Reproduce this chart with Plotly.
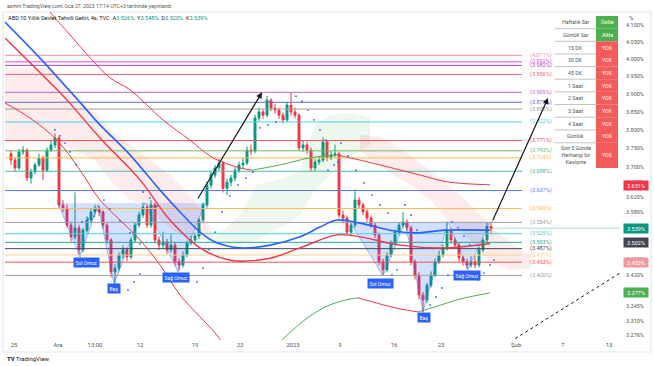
import math
import plotly.graph_objects as go

# ---------------- data ----------------
first_open = 3.735
closes = [3.718,3.697,3.740,3.745,3.670,3.686,3.705,3.724,3.691,3.745,
          3.759,3.778,3.599,3.591,3.547,3.517,3.540,3.484,3.534,3.560,
          3.581,3.591,3.581,3.547,3.509,3.429,3.438,3.471,3.484,3.466,
          3.509,3.547,3.573,3.594,3.547,3.599,3.509,3.496,3.504,3.484,
          3.496,3.454,3.446,3.471,3.501,3.509,3.519,3.560,3.599,3.651,
          3.678,3.697,3.710,3.643,3.659,3.670,3.691,3.705,3.710,3.745,
          3.742,3.833,3.850,3.841,3.883,3.861,3.855,3.841,3.828,3.869,
          3.850,3.841,3.751,3.759,3.745,3.697,3.713,3.718,3.767,3.724,
          3.732,3.735,3.573,3.565,3.529,3.547,3.612,3.599,3.581,3.565,
          3.547,3.522,3.454,3.434,3.471,3.501,3.529,3.547,3.555,3.540,
          3.454,3.421,3.372,3.360,3.396,3.421,3.454,3.471,3.489,3.534,
          3.509,3.496,3.464,3.454,3.446,3.454,3.446,3.484,3.509,3.544,
          3.539]
highs = [3.745,3.725,3.748,3.756,3.750,3.695,3.712,3.735,3.730,3.752,
         3.770,3.790,3.785,3.612,3.600,3.556,3.632,3.548,3.540,3.570,
         3.590,3.600,3.598,3.586,3.552,3.514,3.448,3.478,3.495,3.490,
         3.515,3.553,3.582,3.605,3.600,3.612,3.605,3.518,3.530,3.512,
         3.525,3.502,3.462,3.480,3.508,3.520,3.528,3.566,3.606,3.660,
         3.688,3.705,3.722,3.715,3.668,3.678,3.700,3.714,3.724,3.755,
         3.760,3.842,3.862,3.858,3.895,3.888,3.872,3.862,3.848,3.878,
         3.905,3.862,3.846,3.770,3.768,3.752,3.722,3.728,3.780,3.772,
         3.742,3.760,3.740,3.585,3.572,3.556,3.640,3.620,3.605,3.588,
         3.572,3.552,3.528,3.462,3.478,3.508,3.536,3.555,3.580,3.562,
         3.546,3.460,3.428,3.380,3.402,3.430,3.462,3.480,3.498,3.556,
         3.540,3.515,3.502,3.470,3.462,3.468,3.470,3.492,3.515,3.555,
         3.556]
lows = [3.705,3.688,3.692,3.732,3.662,3.655,3.680,3.700,3.664,3.686,
        3.740,3.750,3.590,3.580,3.540,3.505,3.510,3.470,3.478,3.528,
        3.552,3.572,3.570,3.538,3.500,3.415,3.400,3.430,3.462,3.455,
        3.460,3.502,3.540,3.566,3.540,3.540,3.500,3.484,3.488,3.474,
        3.478,3.445,3.432,3.440,3.465,3.495,3.500,3.512,3.552,3.592,
        3.642,3.670,3.690,3.632,3.625,3.648,3.662,3.684,3.696,3.704,
        3.732,3.736,3.825,3.830,3.835,3.852,3.845,3.830,3.818,3.822,
        3.840,3.832,3.742,3.740,3.735,3.688,3.690,3.705,3.712,3.715,
        3.718,3.726,3.565,3.552,3.520,3.518,3.540,3.590,3.572,3.556,
        3.540,3.514,3.445,3.420,3.428,3.465,3.495,3.522,3.540,3.532,
        3.445,3.410,3.362,3.330,3.352,3.390,3.415,3.448,3.465,3.482,
        3.500,3.488,3.455,3.444,3.436,3.440,3.438,3.440,3.478,3.502,
        3.526]
opens = [first_open] + closes[:-1]
bars = list(range(len(closes)))

# moving averages / bands (bar index, price)
blue_ma_x = [-1.5, 7.25, 16.75, 22.25, 29.75, 37.25, 42.25, 47.25, 51, 57.25, 64.75, 72.25, 77.25, 81.5, 87.25, 94.75, 101, 108.5, 119.75]
blue_ma_y = [4.109, 4.003, 3.883, 3.814, 3.732, 3.638, 3.581, 3.529, 3.504, 3.489, 3.496, 3.517, 3.542, 3.560, 3.552, 3.534, 3.527, 3.534, 3.534]

red_ma_x = [-1.5, 4, 14, 22.25, 32.25, 39.75, 47.25, 54.75, 64.75, 72.25, 81.5, 87.25, 97.25, 109, 119.75]
red_ma_y = [4.062, 3.998, 3.883, 3.778, 3.665, 3.560, 3.489, 3.458, 3.463, 3.489, 3.522, 3.517, 3.496, 3.489, 3.500]

upper_segments = [
    ("#f23645", [8.5, 9.75, 14.75, 20.25, 24.75, 29.75, 38, 44.75, 50.5, 57.25, 60.25],
                [4.160, 4.139, 4.071, 3.998, 3.946, 3.912, 3.828, 3.772, 3.724, 3.697, 3.691]),
    ("#4caf50", [60.25, 67.25, 74.75, 81.5], [3.691, 3.705, 3.724, 3.732]),
    ("#f23645", [81.5, 87.25, 92.25, 102.25, 109, 119.75], [3.732, 3.718, 3.705, 3.678, 3.660, 3.652]),
]
lower_segments = [
    ("#f23645", [-1.5, 4.75, 11.5, 17.25, 22.25, 27.25, 32.25, 37.25, 42.25, 47.25, 51, 54.25],
                [3.875, 3.833, 3.772, 3.691, 3.612, 3.560, 3.509, 3.446, 3.372, 3.319, 3.281, 3.238]),
    ("#4caf50", [63.5, 67.25, 71, 74.75, 79.75, 84.75, 86.75], [3.217, 3.259, 3.292, 3.321, 3.348, 3.362, 3.365]),
    ("#f23645", [86.75, 92.25, 97.25, 101.75], [3.365, 3.350, 3.338, 3.331]),
    ("#4caf50", [101.75, 106, 112.25, 119.75], [3.331, 3.343, 3.362, 3.377]),
]

# cloud polygons (outline points)
clouds = [
    ("rgba(242,54,69,0.10)",
     [-1.5, 9.75, 12.25, 16, 21, 24.75, 29.75, 34.75, 39.75, 44.75, 48.5, 50.25,
      50.25, 47.25, 42.25, 37.25, 34.75, 29.75, 24.75, 21, 16, 12.25, 9.75, -1.5],
     [3.974, 3.974, 3.940, 3.883, 3.850, 3.800, 3.759, 3.718, 3.678, 3.625, 3.573, 3.522,
      3.509, 3.509, 3.522, 3.560, 3.599, 3.612, 3.665, 3.718, 3.745, 3.764, 3.772, 3.772]),
    ("rgba(76,175,80,0.10)",
     [50.25, 57.25, 61.5, 68.5, 72.25, 76, 79.75, 84.75, 89.75,
      89.75, 84.75, 79.75, 76, 72.25, 68.5, 61.5, 57.25, 50.25],
     [3.509, 3.573, 3.652, 3.670, 3.691, 3.814, 3.841, 3.847, 3.833,
      3.759, 3.726, 3.678, 3.638, 3.573, 3.547, 3.509, 3.496, 3.496]),
    ("rgba(242,54,69,0.10)",
     [87.25, 92.25, 97.25, 102.25, 107.25, 112.25, 117.25, 122.25, 127.25, 129.75,
      129.75, 124.75, 119.75, 114.75, 109.75, 104.75, 99.75, 94.75, 89.75, 87.25],
     [3.786, 3.781, 3.751, 3.710, 3.670, 3.625, 3.573, 3.522, 3.484, 3.471,
      3.438, 3.434, 3.453, 3.509, 3.555, 3.612, 3.652, 3.686, 3.718, 3.745]),
]

# parabolic SAR dots
sar_x = [11, 12.25, 13.5, 14.75, 16.25, 17.75, 19.25, 20.75, 22.25,
         23.25, 24.75, 27.25, 29.75, 32.25, 29.25, 30.75, 32.25, 33, 34.75, 36.5,
         46.5, 48, 49.5, 51, 52.75, 54.75, 56.75, 58.75, 60.5,
         62.25, 64.25, 66.25, 68.25, 71.25, 72.75, 74.25, 75.75, 77.25, 78.75,
         79.25, 80.75, 81.75, 82.5, 84.25, 86.25, 88.25, 90.25, 92.25, 94.25,
         95.25, 96.5, 98.5, 100, 101.5, 103, 104.75, 106.25, 107.75, 109.25,
         110.25, 111.75, 113.25, 114.75, 116.75, 118.25, 119.75, 120.75]
sar_y = [3.800, 3.784, 3.764, 3.740, 3.705, 3.555, 3.563, 3.570, 3.581,
         3.612, 3.589, 3.558, 3.527, 3.499, 3.384, 3.404, 3.424, 3.633, 3.617, 3.596,
         3.404, 3.438, 3.484, 3.529, 3.581, 3.623, 3.652, 3.670, 3.686,
         3.806, 3.814, 3.822, 3.830, 3.894, 3.880, 3.855, 3.828, 3.800, 3.772,
         3.691, 3.705, 3.713, 3.764, 3.729, 3.691, 3.657, 3.625, 3.599, 3.578,
         3.421, 3.434, 3.599, 3.573, 3.534, 3.489, 3.348, 3.367, 3.389, 3.421,
         3.555, 3.540, 3.519, 3.496, 3.409, 3.426, 3.446, 3.458]

# head & shoulders patterns
hs_patterns = [
    ([11.75, 17.25, 21.75, 25.75, 33.5, 41.75, 48.5],
     [3.604, 3.466, 3.599, 3.399, 3.604, 3.429, 3.604]),
    ([84.75, 93, 98.5, 103, 109.25, 114.25, 119.75],
     [3.555, 3.419, 3.555, 3.331, 3.555, 3.434, 3.555]),
]
hs_labels = ["Sol Omuz", "Baş", "Sağ Omuz", "Sol Omuz", "Baş", "Sağ Omuz"]
hs_label_x = [18.75, 25.75, 41.25, 92.25, 103.25, 114]
hs_label_y = [3.451, 3.387, 3.416, 3.401, 3.318, 3.419]

# horizontal levels
level_values = [4.011, 3.992, 3.982, 3.956, 3.905, 3.877, 3.858, 3.822, 3.771, 3.743, 3.724,
                3.688, 3.637, 3.590, 3.554, 3.525, 3.503, 3.487, 3.471, 3.453, 3.420]
level_colors = ["#f48fb1", "#e040fb", "#ab47bc", "#f06277", "#ba68c8", "#5c6bc0", "#a0a0a0",
                "#4dd0e1", "#ef5350", "#66bb6a", "#ffb74d", "#4db6ac", "#5b7cfa", "#ffb74d",
                "#a0a0a0", "#4dd0e1", "#26a69a", "#434651", "#ffcc80", "#ef5350", "#a0a0a0"]

# arrows (tail -> head) and projected dotted line
arrow_tail_x = [46.5, 120.25]
arrow_tail_y = [3.612, 3.555]
arrow_head_x = [62.75, 134.25]
arrow_head_y = [3.905, 3.889]
proj_x = [123.5, 152.25]
proj_y = [3.252, 3.426]

# axis ticks
x_tickvals = [0.75, 11.75, 21, 32.25, 46, 57.25, 70.5, 82.25, 95.75, 107.5, 126.25, 138, 149.5]
x_ticktext = ["25", "Ara", "13:00", "12", "19", "23", "2023", "9", "16", "23", "Şub", "7", "13"]
y_tickvals = [4.100, 4.050, 4.000, 3.950, 3.900, 3.850, 3.800, 3.750, 3.700, 3.660, 3.620,
              3.580, 3.460, 3.420, 3.345, 3.310, 3.276]

# price boxes on the scale
box_values = [3.651, 3.539, 3.502, 3.453, 3.377]
box_colors = ["#f23645", "#089981", "#434651", "#f09aa0", "#4caf50"]

# table
table_labels = ["Haftalık Sar", "Günlük Sar", "15 DK", "30 DK", "45 DK", "1 Saat", "2 Saat",
                "3 Saat", "4 Saat", "Günlük", "Son 5 Günde<br>Herhangi bir<br>Kesişme"]
table_values = ["Üstte", "Altta", "YOK", "YOK", "YOK", "YOK", "YOK", "YOK", "YOK", "YOK", "YOK"]
table_colors = ["#4caf50", "#4caf50", "#f45b5b", "#f45b5b", "#f45b5b", "#f45b5b", "#f45b5b",
                "#f45b5b", "#f45b5b", "#f45b5b", "#f45b5b"]

# ---------------- layout helpers ----------------
W, H = 654, 366
PL, PR, PT, PB = 5, 620, 12, 340
X_MIN, X_MAX = -1.5, 152.25
Y_TOP, Y_BOT = 4.1389, 3.2638


def paper_x(px):
    return (px - PL) / (PR - PL)


def paper_y(py):
    return (PB - py) / (PB - PT)


FONT = "Roboto, Liberation Sans, DejaVu Sans, sans-serif"
fig = go.Figure()

for fillc, xs, ys in clouds:
    fig.add_trace(go.Scatter(x=xs, y=ys, mode="lines", fill="toself", fillcolor=fillc,
                             line=dict(width=0), hoverinfo="skip", showlegend=False))

for xs, ys in hs_patterns:
    fig.add_trace(go.Scatter(x=xs, y=ys, mode="lines", fill="toself",
                             fillcolor="rgba(41,98,255,0.2)",
                             line=dict(color="rgba(41,98,255,0.55)", width=0.8),
                             hoverinfo="skip", showlegend=False))

for v, c in zip(level_values, level_colors):
    fig.add_trace(go.Scatter(x=[X_MIN, 127.75], y=[v, v], mode="lines",
                             line=dict(color=c, width=1), hoverinfo="skip", showlegend=False))

for c, xs, ys in upper_segments + lower_segments:
    fig.add_trace(go.Scatter(x=xs, y=ys, mode="lines", line=dict(color=c, width=1, shape="spline"),
                             hoverinfo="skip", showlegend=False))

fig.add_trace(go.Scatter(x=red_ma_x, y=red_ma_y, mode="lines",
                         line=dict(color="#f23645", width=1.4, shape="spline"),
                         hoverinfo="skip", showlegend=False))
fig.add_trace(go.Scatter(x=blue_ma_x, y=blue_ma_y, mode="lines",
                         line=dict(color="#2962ff", width=1.6, shape="spline"),
                         hoverinfo="skip", showlegend=False))

fig.add_trace(go.Candlestick(x=bars, open=opens, high=highs, low=lows, close=closes,
                             increasing=dict(line=dict(color="#089981", width=1), fillcolor="#089981"),
                             decreasing=dict(line=dict(color="#f23645", width=1), fillcolor="#f23645"),
                             whiskerwidth=0, showlegend=False, hoverinfo="skip"))

fig.add_trace(go.Scatter(x=sar_x, y=sar_y, mode="markers",
                         marker=dict(color="#2962ff", size=1.8), hoverinfo="skip", showlegend=False))

fig.add_trace(go.Scatter(x=proj_x, y=proj_y, mode="lines",
                         line=dict(color="#131722", width=1, dash="dot"),
                         hoverinfo="skip", showlegend=False))

# last price line
fig.add_trace(go.Scatter(x=[bars[-1], X_MAX], y=[closes[-1], closes[-1]], mode="lines",
                         line=dict(color="rgba(8,153,129,0.5)", width=0.7),
                         hoverinfo="skip", showlegend=False))

annotations = []
shapes = []

# level labels
for v, c in zip(level_values, level_colors):
    annotations.append(dict(x=129.25, y=math.log10(v), xref="x", yref="y", xanchor="left",
                            yanchor="middle", text=f"({v:.3f}%)", showarrow=False,
                            font=dict(size=5.5, color=c, family=FONT)))

# H&S labels
for t, lx, ly in zip(hs_labels, hs_label_x, hs_label_y):
    annotations.append(dict(x=lx, y=math.log10(ly), xref="x", yref="y", text=t, showarrow=False,
                            xanchor="center", yanchor="middle",
                            bgcolor="#2962ff", font=dict(size=5, color="white", family=FONT),
                            borderpad=1.5))

# arrows
for tx, ty, hx, hy in zip(arrow_tail_x, arrow_tail_y, arrow_head_x, arrow_head_y):
    annotations.append(dict(x=hx, y=math.log10(hy), ax=tx, ay=math.log10(ty), xref="x", yref="y",
                            axref="x", ayref="y", text="", showarrow=True, arrowhead=2,
                            arrowsize=1, arrowwidth=1.2, arrowcolor="#131722"))

# price boxes
for v, c in zip(box_values, box_colors):
    annotations.append(dict(x=paper_x(623), y=math.log10(v), xref="paper", yref="y",
                            xanchor="left", yanchor="middle", text=f"{v:.3f}%", showarrow=False,
                            bgcolor=c, width=23, height=8, borderpad=0.5,
                            font=dict(size=5.5, color="white", family=FONT)))

annotations.append(dict(x=paper_x(627), y=paper_y(17), xref="paper", yref="paper", text="%",
                        showarrow=False, xanchor="left", yanchor="middle",
                        font=dict(size=6, color="#555", family=FONT)))

# header texts
annotations.append(dict(x=paper_x(5), y=paper_y(6), xref="paper", yref="paper", xanchor="left",
                        yanchor="middle", showarrow=False,
                        text="asmin TradingView.com, Oca 27, 2023 17:14 UTC+3 tarihinde yayınlandı",
                        font=dict(size=5.2, color="#555", family=FONT)))
teal = "#089981"
title_txt = ("ABD 10 Yıllık Devlet Tahvili Getiri, 4s, TVC  "
             f"A<span style='color:{teal}'>3.526%</span>  Y<span style='color:{teal}'>3.548%</span>  "
             f"D<span style='color:{teal}'>3.520%</span>  K<span style='color:{teal}'>3.539%</span>")
annotations.append(dict(x=paper_x(6), y=paper_y(18), xref="paper", yref="paper", xanchor="left",
                        yanchor="middle", showarrow=False, text=title_txt,
                        font=dict(size=5.6, color="#131722", family=FONT)))
annotations.append(dict(x=paper_x(5), y=paper_y(358), xref="paper", yref="paper", xanchor="left",
                        yanchor="middle", showarrow=False, text="<b>TV</b> TradingView",
                        font=dict(size=6, color="#131722", family=FONT)))

# table
row_edges = [16, 28.7, 41.3, 54, 66.6, 79.2, 91.8, 104.5, 117.2, 130, 142.8, 168]
TL, TM, TR = 555, 596, 618
for i, (lab, val, col) in enumerate(zip(table_labels, table_values, table_colors)):
    y0, y1 = row_edges[i], row_edges[i + 1]
    shapes.append(dict(type="rect", xref="paper", yref="paper", x0=paper_x(TL), x1=paper_x(TM),
                       y0=paper_y(y1), y1=paper_y(y0), fillcolor="white", line=dict(width=0)))
    shapes.append(dict(type="rect", xref="paper", yref="paper", x0=paper_x(TM), x1=paper_x(TR),
                       y0=paper_y(y1), y1=paper_y(y0), fillcolor=col, line=dict(width=0)))
    if i > 0:
        shapes.append(dict(type="line", xref="paper", yref="paper", x0=paper_x(TL), x1=paper_x(TM),
                           y0=paper_y(y0), y1=paper_y(y0), line=dict(color="#9a9a9a", width=0.6)))
    ym = paper_y((y0 + y1) / 2)
    annotations.append(dict(x=paper_x((TL + TM) / 2), y=ym, xref="paper", yref="paper", text=lab,
                            xanchor="center", yanchor="middle", showarrow=False,
                            font=dict(size=5.3, color="#555", family=FONT)))
    annotations.append(dict(x=paper_x((TM + TR) / 2), y=ym, xref="paper", yref="paper", text=val,
                            xanchor="center", yanchor="middle", showarrow=False,
                            font=dict(size=5.3, color="white", family=FONT)))

# outer frame
shapes.append(dict(type="rect", xref="paper", yref="paper", x0=paper_x(3), x1=paper_x(651),
                   y0=paper_y(352), y1=paper_y(12), line=dict(color="#e0e3eb", width=1),
                   fillcolor="rgba(0,0,0,0)", layer="below"))

fig.update_layout(
    width=W, height=H,
    margin=dict(l=PL, r=W - PR, t=PT, b=H - PB),
    paper_bgcolor="white", plot_bgcolor="white",
    showlegend=False,
    annotations=annotations, shapes=shapes,
    font=dict(family=FONT),
    xaxis=dict(range=[X_MIN, X_MAX], showgrid=False, zeroline=False, showline=False,
               tickvals=x_tickvals, ticktext=x_ticktext, ticks="",
               tickfont=dict(size=6, color="#555"), rangeslider=dict(visible=False)),
    yaxis=dict(type="log", range=[math.log10(Y_BOT), math.log10(Y_TOP)], side="right",
               showgrid=False, zeroline=False, showline=False,
               tickvals=y_tickvals, ticktext=[f"{v:.3f}%" for v in y_tickvals], ticks="",
               ticklabelstandoff=5, tickfont=dict(size=5.5, color="#555")),
)

fig.write_html("out.html", config={"displayModeBar": False},
               post_script="document.body.style.margin='0';document.body.style.padding='0';"
                           "document.body.style.overflow='hidden';")
